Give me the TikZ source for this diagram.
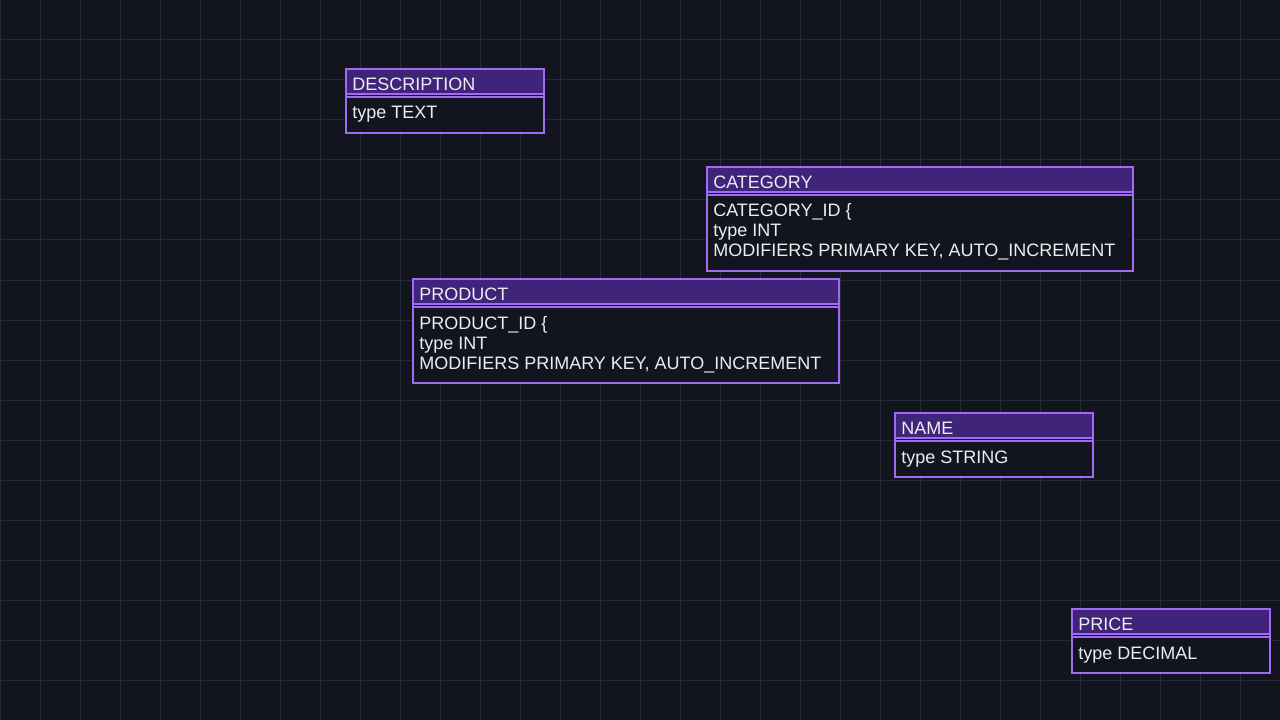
\documentclass[tikz,border=0pt]{standalone}
\usepackage{fontspec}
\setmainfont{Liberation Sans}
\usetikzlibrary{positioning}

\definecolor{canvas}{HTML}{12151E}
\definecolor{gridline}{HTML}{252A3A}
\definecolor{erline}{HTML}{A06AF4}
\definecolor{erhead}{HTML}{3F2479}
\definecolor{ertext}{HTML}{EDEDF0}

\tikzset{
    entity/.style={draw=erline, line width=1.5pt, fill=canvas, anchor=north west,
        inner sep=0pt, minimum width=#1},
    erheader/.style={draw=erline, line width=1.5pt, fill=erhead, anchor=north west,
        inner sep=0pt, minimum width=#1, minimum height=18.75pt},
    ersep/.style={draw=erline, line width=0.9pt},
    ertitle/.style={anchor=base west, inner sep=0pt, text=ertext,
        font=\fontsize{13.5pt}{15pt}\selectfont},
    erfield/.style={anchor=base west, inner sep=0pt, text=ertext, align=left,
        font=\fontsize{13.5pt}{15pt}\selectfont},
}

\begin{document}
\begin{tikzpicture}[x=0.75pt, y=-0.75pt]

    % canvas and grid
    \fill[canvas] (0,0) rectangle (1280,720);
    \useasboundingbox (0,0) rectangle (1280,720);
    \foreach \gx in {0,40,...,1280} {
        \draw[gridline, line width=0.75pt] (\gx,0) -- (\gx,720);
    }
    \foreach \gy in {0,40,...,720} {
        \draw[gridline, line width=0.75pt] (0,\gy) -- (1280,\gy);
    }

    % DESCRIPTION
    \node[entity=148.5pt, minimum height=48pt] (description) at (345,68) {};
    \node[erheader=148.5pt] (descriptionhead) at (description.north west) {};
    \draw[ersep] ([yshift=-21.75pt]description.north west) -- ([yshift=-21.75pt]description.north east);
    \node[ertitle] (descriptiontitle) at ([shift={(7,22.5)}]description.north west) {DESCRIPTION};
    \node[erfield] (descriptionfields) at ([shift={(7,51)}]description.north west) {type TEXT};

    % CATEGORY
    \node[entity=319.5pt, minimum height=78pt] (category) at (706,166) {};
    \node[erheader=319.5pt] (categoryhead) at (category.north west) {};
    \draw[ersep] ([yshift=-21.75pt]category.north west) -- ([yshift=-21.75pt]category.north east);
    \node[ertitle] (categorytitle) at ([shift={(7,22.5)}]category.north west) {CATEGORY};
    \node[erfield] (categoryfields) at ([shift={(7,91)}]category.north west)
        {CATEGORY\_ID \{\\type INT\\MODIFIERS PRIMARY KEY, AUTO\_INCREMENT};

    % PRODUCT
    \node[entity=319.5pt, minimum height=78pt] (product) at (412,278) {};
    \node[erheader=319.5pt] (producthead) at (product.north west) {};
    \draw[ersep] ([yshift=-21.75pt]product.north west) -- ([yshift=-21.75pt]product.north east);
    \node[ertitle] (producttitle) at ([shift={(7,22.5)}]product.north west) {PRODUCT};
    \node[erfield] (productfields) at ([shift={(7,91)}]product.north west)
        {PRODUCT\_ID \{\\type INT\\MODIFIERS PRIMARY KEY, AUTO\_INCREMENT};

    % NAME
    \node[entity=148.5pt, minimum height=48pt] (name) at (894,412) {};
    \node[erheader=148.5pt] (namehead) at (name.north west) {};
    \draw[ersep] ([yshift=-21.75pt]name.north west) -- ([yshift=-21.75pt]name.north east);
    \node[ertitle] (nametitle) at ([shift={(7,22.5)}]name.north west) {NAME};
    \node[erfield] (namefields) at ([shift={(7,51)}]name.north west) {type STRING};

    % PRICE
    \node[entity=148.5pt, minimum height=48pt] (price) at (1071,608) {};
    \node[erheader=148.5pt] (pricehead) at (price.north west) {};
    \draw[ersep] ([yshift=-21.75pt]price.north west) -- ([yshift=-21.75pt]price.north east);
    \node[ertitle] (pricetitle) at ([shift={(7,22.5)}]price.north west) {PRICE};
    \node[erfield] (pricefields) at ([shift={(7,51)}]price.north west) {type DECIMAL};

\end{tikzpicture}
\end{document}
